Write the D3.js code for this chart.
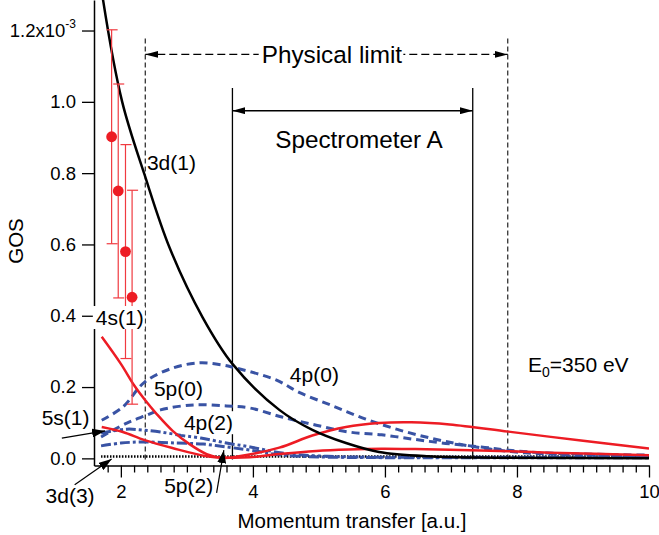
<!DOCTYPE html>
<html>
<head>
<meta charset="utf-8">
<script src="https://cdn.jsdelivr.net/npm/d3@7"></script>
<style>
  body { margin: 0; background: #fff; }
  text { font-family: "Liberation Sans", Arial, Helvetica, sans-serif; fill: #000; }
</style>
</head>
<body>
<svg id="chart" width="659" height="535"></svg>
<script>
// GOS values are in units of 1e-3, momentum transfer q in a.u.

// 3d(1), black solid
var q3d1   = [1.70, 1.73, 2.02, 2.36, 2.74, 3.24, 3.69, 4.40, 4.90, 5.41, 5.91, 6.66, 7.72, 10.0];
var gos3d1 = [1.33, 1.286, 1.00, 0.795, 0.59, 0.395, 0.265, 0.136, 0.080, 0.043, 0.018, 0.006, 0.002, 0.0];

// 4s(1), red solid
var q4s1   = [1.71, 2.00, 2.20, 2.36, 2.54, 2.78, 3.04, 3.30, 3.54, 3.79, 4.40, 4.90, 5.41, 5.91, 6.40, 6.98, 7.87, 8.97, 10.0];
var gos4s1 = [0.341, 0.265, 0.205, 0.165, 0.125, 0.078, 0.040, 0.012, 0.001, 0.006, 0.030, 0.064, 0.088, 0.099, 0.101, 0.095, 0.075, 0.050, 0.028];

// 5s(1), red solid (lower)
var q5s1   = [1.71, 2.03, 2.36, 2.78, 3.30, 3.60, 3.95, 4.44, 4.96, 5.45, 5.95, 6.46, 6.98, 7.87, 8.50, 10.0];
var gos5s1 = [0.088, 0.074, 0.051, 0.029, 0.006, 0.002, 0.003, 0.013, 0.021, 0.025, 0.027, 0.026, 0.024, 0.020, 0.016, 0.009];

// 4p(0), blue dashed (upper)
var q4p0   = [1.71, 2.03, 2.36, 2.78, 3.19, 3.54, 3.69, 4.35, 4.70, 5.20, 5.71, 6.21, 6.71, 7.21, 7.91, 8.50, 10.0];
var gos4p0 = [0.107, 0.144, 0.214, 0.253, 0.268, 0.262, 0.256, 0.220, 0.185, 0.148, 0.110, 0.080, 0.056, 0.037, 0.019, 0.012, 0.006];

// 5p(0), blue dashed (lower)
var q5p0   = [1.70, 2.09, 2.39, 2.60, 3.10, 3.60, 3.96, 4.44, 4.96, 5.45, 5.95, 6.46, 6.92, 7.46, 7.87, 8.47, 10.0];
var gos5p0 = [0.060, 0.099, 0.121, 0.136, 0.150, 0.147, 0.141, 0.116, 0.093, 0.074, 0.066, 0.053, 0.042, 0.032, 0.023, 0.015, 0.009];

// 4p(2), blue dash-dot-dot
var q4p2   = [1.70, 2.09, 2.35, 2.60, 2.90, 3.21, 3.60, 3.96, 4.44, 4.96, 5.50, 6.50, 8.00, 10.0];
var gos4p2 = [0.071, 0.082, 0.079, 0.074, 0.065, 0.057, 0.043, 0.032, 0.015, 0.007, 0.004, 0.003, 0.003, 0.003];

// 5p(2), blue dash-dot
var q5p2   = [1.70, 2.00, 2.35, 2.84, 3.25, 3.60, 3.96, 4.44, 5.00, 6.00, 8.00, 10.0];
var gos5p2 = [0.035, 0.043, 0.046, 0.043, 0.040, 0.032, 0.023, 0.009, 0.004, 0.002, 0.002, 0.002];

// 3d(3), black dotted
var q3d3   = [1.70, 4.00, 7.00, 10.0];
var gos3d3 = [0.005, 0.005, 0.005, 0.005];

// measured points with error bars
var pointQ   = [1.86, 1.96, 2.07, 2.17];
var pointGos = [0.902, 0.750, 0.580, 0.452];
var pointErr = [0.30, 0.30, 0.30, 0.30];

// ranges
var physLimit = [2.37, 7.86];
var specA     = [3.69, 7.33];

var xTicks = [2, 4, 6, 8, 10];
var yTicks = [0, 0.2, 0.4, 0.6, 0.8, 1.0, 1.2];

var red = '#ed1c24', blue = '#3953a4';

var svg = d3.select('#chart');
var plotL = 94, plotR = 649, plotT = 0, plotB = 465.5;

var x = d3.scaleLinear().domain([1.593, 10]).range([plotL, plotR]);
var y = d3.scaleLinear().domain([-0.02, 1.2856]).range([plotB, plotT]);

// arrow heads
var defs = svg.append('defs');
function marker(id, len, wid) {
  defs.append('marker')
    .attr('id', id)
    .attr('markerUnits', 'userSpaceOnUse')
    .attr('markerWidth', len).attr('markerHeight', wid)
    .attr('refX', len).attr('refY', wid / 2)
    .attr('orient', 'auto-start-reverse')
    .append('path')
    .attr('d', 'M0,0L' + len + ',' + (wid / 2) + 'L0,' + wid + 'Z')
    .attr('fill', '#000');
}
marker('arr', 13, 7);
marker('arrBig', 13, 9);

defs.append('clipPath').attr('id', 'plotClip')
  .append('rect')
  .attr('x', plotL).attr('y', plotT)
  .attr('width', plotR - plotL).attr('height', plotB - plotT);

// axes
svg.append('g')
  .attr('transform', 'translate(0,' + plotB + ')')
  .call(d3.axisBottom(x).tickValues(xTicks).tickSize(12).tickPadding(7).tickSizeOuter(0).tickFormat(d3.format('d')));
svg.append('g')
  .attr('transform', 'translate(0,' + plotB + ')')
  .call(d3.axisBottom(x).tickValues(d3.range(1.8, 9.9, 0.2).filter(function (d) { return Math.abs(d / 2 - Math.round(d / 2)) > 0.01; }))
    .tickSize(7).tickSizeOuter(0).tickFormat(''))
  .select('.domain').remove();

var yAxis = svg.append('g')
  .attr('transform', 'translate(' + plotL + ',0)')
  .call(d3.axisLeft(y).tickValues(yTicks).tickSize(12).tickPadding(6).tickSizeOuter(0).tickFormat(d3.format('.1f')));

yAxis.selectAll('.tick text').filter(function (d) { return d === 1.2; })
  .text('1.2x10')
  .append('tspan').attr('dy', -9).attr('font-size', 12).text('-3');

svg.selectAll('.domain').attr('stroke-width', 1.5);
svg.selectAll('.tick line').attr('stroke-width', 1.3);
svg.selectAll('.tick text').attr('font-size', 18.5)
  .attr('font-family', '"Liberation Sans", Arial, Helvetica, sans-serif');

// axis titles
svg.append('text')
  .attr('x', 352).attr('y', 528)
  .attr('text-anchor', 'middle')
  .attr('font-size', 20.5)
  .text('Momentum transfer [a.u.]');

svg.append('text')
  .attr('transform', 'translate(23,241) rotate(-90)')
  .attr('text-anchor', 'middle')
  .attr('font-size', 20.5)
  .text('GOS');

// vertical range markers
var vLines = svg.append('g');
physLimit.forEach(function (q) {
  vLines.append('line')
    .attr('x1', x(q)).attr('x2', x(q))
    .attr('y1', y(-0.003)).attr('y2', y(1.179))
    .attr('stroke', '#333').attr('stroke-width', 1.3)
    .attr('stroke-dasharray', '5,3');
});
specA.forEach(function (q) {
  vLines.append('line')
    .attr('x1', x(q)).attr('x2', x(q))
    .attr('y1', y(-0.003)).attr('y2', y(1.039))
    .attr('stroke', '#000').attr('stroke-width', 1.3);
});

// curves
var line = d3.line()
  .x(function (d) { return x(d[0]); })
  .y(function (d) { return y(d[1]); })
  .curve(d3.curveCatmullRom.alpha(0.5));

var series = [
  { q: q3d3, g: gos3d3, color: '#000', w: 2.5, dash: '1.5,1.5' },
  { q: q5p2, g: gos5p2, color: blue, w: 3, dash: '10,3,3,3' },
  { q: q4p2, g: gos4p2, color: blue, w: 3, dash: '10,3,3,3,3,3' },
  { q: q5p0, g: gos5p0, color: blue, w: 3, dash: '8,5' },
  { q: q4p0, g: gos4p0, color: blue, w: 3, dash: '8,5' },
  { q: q5s1, g: gos5s1, color: red, w: 2.5, dash: null },
  { q: q4s1, g: gos4s1, color: red, w: 2.5, dash: null },
  { q: q3d1, g: gos3d1, color: '#000', w: 2.5, dash: null }
];

var curves = svg.append('g').attr('clip-path', 'url(#plotClip)');
curves.selectAll('path')
  .data(series)
  .enter().append('path')
  .attr('d', function (s) { return line(d3.zip(s.q, s.g)); })
  .attr('fill', 'none')
  .attr('stroke', function (s) { return s.color; })
  .attr('stroke-width', function (s) { return s.w; })
  .attr('stroke-dasharray', function (s) { return s.dash; });

// measured points
var pts = d3.range(pointQ.length).map(function (i) {
  return { q: pointQ[i], g: pointGos[i], e: pointErr[i] };
});
var errG = svg.append('g').attr('stroke', '#f03a40').attr('stroke-width', 1.2);
pts.forEach(function (p) {
  errG.append('line').attr('x1', x(p.q)).attr('x2', x(p.q))
    .attr('y1', y(p.g - p.e)).attr('y2', y(p.g + p.e));
  [p.g - p.e, p.g + p.e].forEach(function (v) {
    errG.append('line').attr('x1', x(p.q) - 5).attr('x2', x(p.q) + 6)
      .attr('y1', y(v)).attr('y2', y(v));
  });
});
svg.append('g').selectAll('circle')
  .data(pts)
  .enter().append('circle')
  .attr('cx', function (d) { return x(d.q); })
  .attr('cy', function (d) { return y(d.g); })
  .attr('r', 5.4)
  .attr('fill', red);

// range arrows
svg.append('line')
  .attr('x1', x(physLimit[0])).attr('x2', x(physLimit[1]))
  .attr('y1', y(1.133)).attr('y2', y(1.133))
  .attr('stroke', '#000').attr('stroke-width', 1.3)
  .attr('stroke-dasharray', '8,4')
  .attr('marker-start', 'url(#arr)').attr('marker-end', 'url(#arr)');
svg.append('line')
  .attr('x1', x(specA[0])).attr('x2', x(specA[1]))
  .attr('y1', y(0.975)).attr('y2', y(0.975))
  .attr('stroke', '#000').attr('stroke-width', 1.3)
  .attr('marker-start', 'url(#arr)').attr('marker-end', 'url(#arr)');

// label arrows
var pointers = [
  { q1: 1.106, g1: 0.057, q2: 1.76, g2: 0.077 },   // 5s(1)
  { q1: 1.30, g1: -0.074, q2: 1.86, g2: -0.002 },  // 3d(3)
  { q1: 3.45, g1: -0.097, q2: 3.56, g2: 0.023 }    // 5p(2)
];
svg.append('g').selectAll('line')
  .data(pointers)
  .enter().append('line')
  .attr('x1', function (d) { return x(d.q1); })
  .attr('y1', function (d) { return y(d.g1); })
  .attr('x2', function (d) { return x(d.q2); })
  .attr('y2', function (d) { return y(d.g2); })
  .attr('stroke', '#000').attr('stroke-width', 1.2)
  .attr('marker-end', 'url(#arrBig)');

// text labels
var labels = [
  { t: '3d(1)', q: 2.394, g: 0.809, size: 21, anchor: 'start', bg: false },
  { t: '4s(1)', q: 1.621, g: 0.374, size: 21, anchor: 'start', bg: true },
  { t: '5p(0)', q: 2.50, g: 0.175, size: 21, anchor: 'start', bg: false },
  { t: '4p(0)', q: 4.56, g: 0.215, size: 21, anchor: 'start', bg: false },
  { t: '4p(2)', q: 2.955, g: 0.079, size: 21, anchor: 'start', bg: true },
  { t: '5s(1)', q: 0.80, g: 0.093, size: 21, anchor: 'start', bg: false },
  { t: '3d(3)', q: 0.859, g: -0.126, size: 21, anchor: 'start', bg: false },
  { t: '5p(2)', q: 2.656, g: -0.098, size: 21, anchor: 'start', bg: false },
  { t: 'Physical limit', q: 5.197, g: 1.109, size: 24.3, anchor: 'middle', bg: true },
  { t: 'Spectrometer A', q: 5.606, g: 0.870, size: 24.3, anchor: 'middle', bg: false }
];
var labG = svg.append('g');
labels.forEach(function (l) {
  var g = labG.append('g');
  var txt = g.append('text')
    .attr('x', x(l.q)).attr('y', y(l.g))
    .attr('font-size', l.size)
    .attr('text-anchor', l.anchor)
    .text(l.t);
  if (l.bg) {
    var b = txt.node().getBBox();
    g.insert('rect', 'text')
      .attr('x', b.x - 3).attr('y', b.y)
      .attr('width', b.width + 4).attr('height', b.height)
      .attr('fill', '#fff');
  }
});

// beam energy
var e0 = svg.append('text')
  .attr('x', x(8.167)).attr('y', y(0.242))
  .attr('font-size', 21);
e0.append('tspan').text('E');
e0.append('tspan').attr('font-size', 14).attr('dy', 5).text('0');
e0.append('tspan').attr('dy', -5).text('=350 eV');
</script>
</body>
</html>
